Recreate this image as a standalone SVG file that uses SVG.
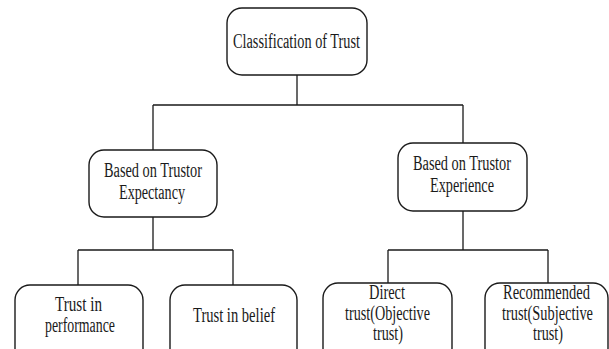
<svg xmlns="http://www.w3.org/2000/svg" width="609" height="349" viewBox="0 0 609 349">
<style>
.box{fill:#fff;stroke:#1a1a1a;stroke-width:1.4}
.ln{fill:none;stroke:#1a1a1a;stroke-width:1.3}
.t{font-family:'Liberation Serif','Times New Roman',serif;font-size:20px;fill:#1a1a1a;text-anchor:middle}
</style>
<rect width="609" height="349" fill="#fff"/>
<g id="connectors">
<path class="ln" d="M297 75V105M153 105H463M153 105V150M463 105V143"/>
<path class="ln" d="M153 217V250M78 250H233M78 250V285M233 250V285"/>
<path class="ln" d="M463 211V250M388 250H548M388 250V283M548 250V283"/>
</g>
<g id="n-root">
<rect class="box" x="227" y="8" width="140" height="67" rx="15"/>
<text class="t" x="296.5" y="48" textLength="127" lengthAdjust="spacingAndGlyphs">Classification of Trust</text>
</g>
<g id="n-expectancy">
<rect class="box" x="89" y="150" width="128" height="67" rx="15"/>
<text class="t" x="153" y="177" textLength="98" lengthAdjust="spacingAndGlyphs">Based on Trustor</text>
<text class="t" x="152" y="199" textLength="66" lengthAdjust="spacingAndGlyphs">Expectancy</text>
</g>
<g id="n-experience">
<rect class="box" x="398" y="143" width="129" height="68" rx="15"/>
<text class="t" x="462" y="170" textLength="98" lengthAdjust="spacingAndGlyphs">Based on Trustor</text>
<text class="t" x="462" y="192" textLength="64" lengthAdjust="spacingAndGlyphs">Experience</text>
</g>
<g id="n-performance">
<rect class="box" x="15" y="285" width="128" height="80" rx="15"/>
<text class="t" x="78.5" y="311" textLength="47" lengthAdjust="spacingAndGlyphs">Trust in</text>
<text class="t" x="80" y="332" textLength="70" lengthAdjust="spacingAndGlyphs">performance</text>
</g>
<g id="n-belief">
<rect class="box" x="170" y="285" width="127" height="80" rx="15"/>
<text class="t" x="234" y="322" textLength="82" lengthAdjust="spacingAndGlyphs">Trust in belief</text>
</g>
<g id="n-direct">
<rect class="box" x="323" y="283" width="129" height="80" rx="15"/>
<text class="t" x="387" y="299" textLength="36" lengthAdjust="spacingAndGlyphs">Direct</text>
<text class="t" x="387.5" y="320" textLength="85" lengthAdjust="spacingAndGlyphs">trust(Objective</text>
<text class="t" x="388" y="340" textLength="30" lengthAdjust="spacingAndGlyphs">trust)</text>
</g>
<g id="n-recommended">
<rect class="box" x="485" y="283" width="123" height="80" rx="15"/>
<text class="t" x="546.5" y="299" textLength="87" lengthAdjust="spacingAndGlyphs">Recommended</text>
<text class="t" x="547.5" y="320" textLength="91" lengthAdjust="spacingAndGlyphs">trust(Subjective</text>
<text class="t" x="548" y="340" textLength="30" lengthAdjust="spacingAndGlyphs">trust)</text>
</g>
</svg>
